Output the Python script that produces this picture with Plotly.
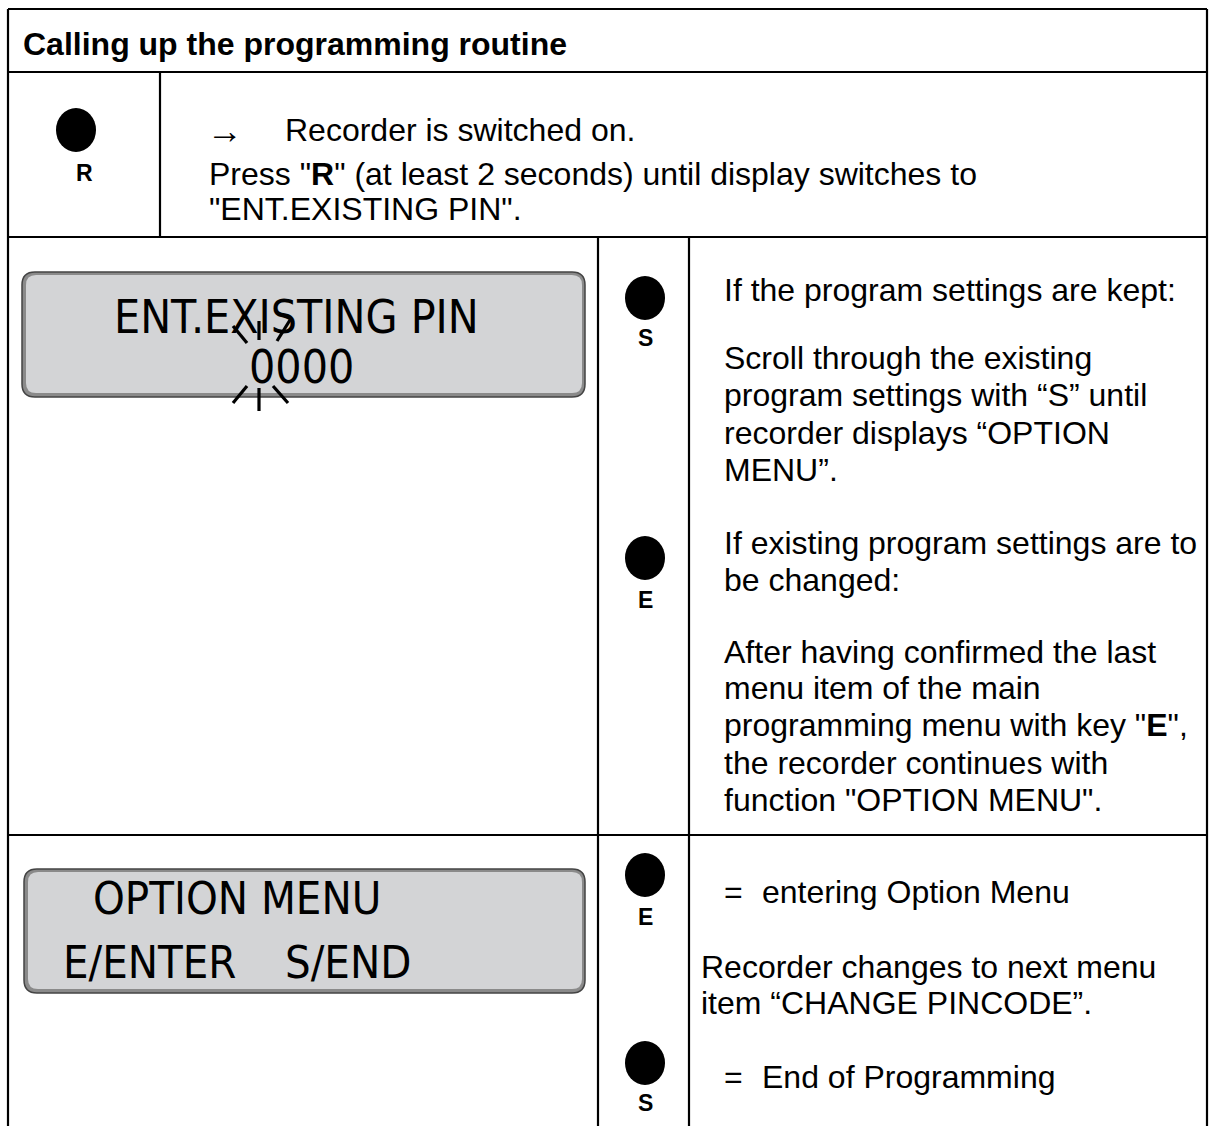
import plotly.graph_objects as go

# ---------------- content ----------------
W, H = 1212, 1126
FONT = "Liberation Sans, Arial, Helvetica, sans-serif"
LCD_FONT = "Liberation Sans Narrow, DejaVu Sans Condensed, Liberation Sans, sans-serif"

title_text = "Calling up the programming routine"

row2_arrow = "\u2192"
row2_lines = [
    "Recorder is switched on.",
    "Press \"<b>R</b>\" (at least 2 seconds) until display switches to",
    "\"ENT.EXISTING PIN\".",
]

lcd1_lines = ["ENT.EXISTING PIN", "0000"]
lcd2_lines = ["OPTION MENU", "E/ENTER", "S/END"]

kept_lines = [
    "If the program settings are kept:",
    "Scroll through the existing",
    "program settings with \u201cS\u201d until",
    "recorder displays \u201cOPTION",
    "MENU\u201d.",
]
changed_lines = [
    "If existing program settings are to",
    "be changed:",
    "After having confirmed the last",
    "menu item of the main",
    "programming menu with key \"<b>E</b>\",",
    "the recorder continues with",
    "function \"OPTION MENU\".",
]
option_lines = [
    "entering Option Menu",
    "Recorder changes to next menu",
    "item \u201cCHANGE PINCODE\u201d.",
    "End of Programming",
]
key_labels = ["R", "S", "E", "E", "S"]

# ---------------- layout geometry ----------------
L, T, R = 8, 9, 1207
Y_HEAD = 72
X_DIV2 = 160
Y_ROW2 = 237
X_DIVA, X_DIVB = 598, 689
Y_ROW3 = 835

key_pos = [(76, 130), (645, 298), (645, 558), (645, 875), (645, 1063)]
key_label_pos = [(84, 173), (645, 338), (645, 600), (645, 917), (645, 1103)]

shapes = []
annotations = []

def line(x0, y0, x1, y1, w=2.2, c="black"):
    shapes.append(dict(type="line", x0=x0, y0=y0, x1=x1, y1=y1,
                       line=dict(color=c, width=w), layer="above"))

def rrect(x0, y0, x1, y1, r):
    return (f"M{x0+r},{y0} L{x1-r},{y0} Q{x1},{y0} {x1},{y0+r} "
            f"L{x1},{y1-r} Q{x1},{y1} {x1-r},{y1} L{x0+r},{y1} "
            f"Q{x0},{y1} {x0},{y1-r} L{x0},{y0+r} Q{x0},{y0} {x0+r},{y0} Z")

def text(x, y, s, size=32, anchor="left", family=FONT, bold=False):
    if bold:
        s = f"<b>{s}</b>"
    annotations.append(dict(x=x, y=y, text=s, showarrow=False, xref="x", yref="y",
                            xanchor=anchor, yanchor="middle",
                            font=dict(family=family, size=size, color="black")))

# table lines
line(L, T, R, T)
line(L, T, L, H + 5)
line(R, T, R, H + 5)
line(L, Y_HEAD, R, Y_HEAD)
line(X_DIV2, Y_HEAD, X_DIV2, Y_ROW2)
line(L, Y_ROW2, R, Y_ROW2)
line(X_DIVA, Y_ROW2, X_DIVA, H + 5)
line(X_DIVB, Y_ROW2, X_DIVB, H + 5)
line(L, Y_ROW3, R, Y_ROW3)

# LCD displays
def lcd(x0, y0, x1, y1):
    shapes.append(dict(type="path", path=rrect(x0, y0, x1, y1, 13),
                       fillcolor="#8a8a8a", line=dict(color="#444444", width=1.5), layer="below"))
    shapes.append(dict(type="path", path=rrect(x0 + 4, y0 + 3, x1 - 3, y1 - 4, 10),
                       fillcolor="#d3d4d6", line=dict(width=0), layer="below"))

lcd(22, 272, 585, 397)
lcd(24, 869, 585, 993)

# key dots
for (cx, cy) in key_pos:
    shapes.append(dict(type="circle", x0=cx - 20, x1=cx + 20, y0=cy - 22, y1=cy + 22,
                       fillcolor="black", line=dict(color="black", width=0), layer="above"))
for lab, (lx, ly) in zip(key_labels, key_label_pos):
    text(lx, ly, lab, size=23, anchor="center", bold=True)

# blink marks around first digit
blink = [
    (233, 326, 247, 343), (259, 321, 259, 340), (290, 320, 277, 341),
    (233, 403, 247, 386), (259, 388, 259, 411), (273, 386, 288, 403),
]
for (a, b, c, d) in blink:
    line(a, b, c, d, w=3.2)

# header
text(21, 44, title_text, size=32, bold=True)

# row 2
text(205, 131, row2_arrow, size=36, family="Liberation Serif, DejaVu Serif, serif")
text(283, 130, row2_lines[0])
text(207, 174, row2_lines[1])
text(207, 209, row2_lines[2])

# LCD texts
text(296, 317, lcd1_lines[0], size=46, anchor="center", family=LCD_FONT)
text(301, 367, lcd1_lines[1], size=46, anchor="center", family=LCD_FONT)
text(91, 898, lcd2_lines[0], size=45, family=LCD_FONT)
text(61, 962, lcd2_lines[1], size=45, family=LCD_FONT)
text(283, 962, lcd2_lines[2], size=45, family=LCD_FONT)

# right column
kept_y = [290, 358, 395, 433, 470]
for s, y in zip(kept_lines, kept_y):
    text(722, y, s)
changed_y = [543, 580, 652, 688, 725, 763, 800]
for s, y in zip(changed_lines, changed_y):
    text(722, y, s)

text(722, 892, "=")
text(760, 892, option_lines[0])
text(699, 967, option_lines[1])
text(699, 1003, option_lines[2])
text(722, 1077, "=")
text(760, 1077, option_lines[3])

fig = go.Figure()
fig.update_layout(
    width=W, height=H, margin=dict(l=0, r=0, t=0, b=0),
    paper_bgcolor="white", plot_bgcolor="white",
    xaxis=dict(range=[0, W], visible=False, fixedrange=True),
    yaxis=dict(range=[H, 0], visible=False, fixedrange=True),
    shapes=shapes, annotations=annotations, showlegend=False,
)
fig.write_html("out.html", config={"displayModeBar": False},
               post_script="document.body.style.margin='0';document.body.style.overflow='hidden';")
